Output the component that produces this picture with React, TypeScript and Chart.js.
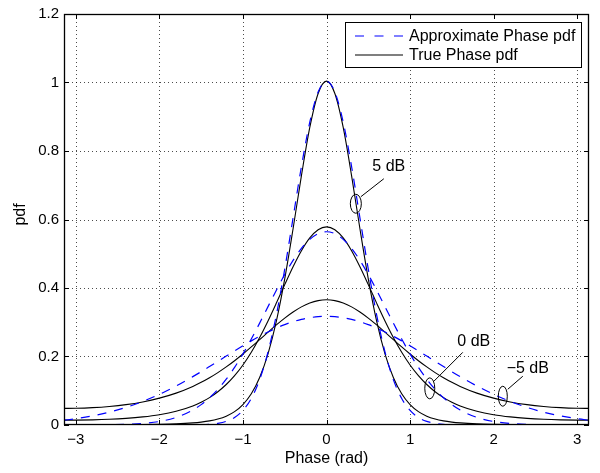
import React, { useEffect, useRef } from 'react';
import { Chart, registerables } from 'chart.js';

Chart.register(...registerables);

// ---- data ----
const phase = [-3.1416, -3.0, -2.8, -2.6, -2.4, -2.2, -2.0, -1.8, -1.6, -1.5, -1.4, -1.3, -1.2, -1.1, -1.0, -0.9, -0.8, -0.7, -0.6, -0.5, -0.4, -0.3, -0.2, -0.1, 0, 0.1, 0.2, 0.3, 0.4, 0.5, 0.6, 0.7, 0.8, 0.9, 1.0, 1.1, 1.2, 1.3, 1.4, 1.5, 1.6, 1.8, 2.0, 2.2, 2.4, 2.6, 2.8, 3.0, 3.1416];

const approx5dB = [0, 0, 0, 0, 0, 0, 0, 0, 0.0003, 0.0008, 0.0020, 0.0048, 0.0106, 0.0219, 0.0425, 0.0775, 0.1326, 0.2131, 0.3214, 0.4551, 0.6049, 0.7548, 0.8841, 0.9721, 1.0033, 0.9721, 0.8841, 0.7548, 0.6049, 0.4551, 0.3214, 0.2131, 0.1326, 0.0775, 0.0425, 0.0219, 0.0106, 0.0048, 0.0020, 0.0008, 0.0003, 0, 0, 0, 0, 0, 0, 0, 0];
const approx0dB = [0, 0.0001, 0.0002, 0.0007, 0.0018, 0.0045, 0.0103, 0.0221, 0.0436, 0.0595, 0.0795, 0.1041, 0.1337, 0.1682, 0.2076, 0.2510, 0.2975, 0.3456, 0.3936, 0.4394, 0.4808, 0.5156, 0.5421, 0.5586, 0.5642, 0.5586, 0.5421, 0.5156, 0.4808, 0.4394, 0.3936, 0.3456, 0.2975, 0.2510, 0.2076, 0.1682, 0.1337, 0.1041, 0.0795, 0.0595, 0.0436, 0.0221, 0.0103, 0.0045, 0.0018, 0.0007, 0.0002, 0.0001, 0];
const approxM5dB = [0.0140, 0.0184, 0.0266, 0.0374, 0.0513, 0.0687, 0.0896, 0.1139, 0.1412, 0.1557, 0.1707, 0.1859, 0.2012, 0.2164, 0.2313, 0.2456, 0.2591, 0.2717, 0.2831, 0.2932, 0.3016, 0.3084, 0.3133, 0.3163, 0.3173, 0.3163, 0.3133, 0.3084, 0.3016, 0.2932, 0.2831, 0.2717, 0.2591, 0.2456, 0.2313, 0.2164, 0.2012, 0.1859, 0.1707, 0.1557, 0.1412, 0.1139, 0.0896, 0.0687, 0.0513, 0.0374, 0.0266, 0.0184, 0.0140];

const true5dB = [0.0008, 0.0008, 0.0008, 0.0010, 0.0012, 0.0015, 0.0022, 0.0035, 0.0062, 0.0085, 0.0120, 0.0174, 0.0258, 0.0390, 0.0595, 0.0910, 0.1386, 0.2077, 0.3031, 0.4266, 0.5729, 0.7280, 0.8687, 0.9680, 1.0040, 0.9680, 0.8687, 0.7280, 0.5729, 0.4266, 0.3031, 0.2077, 0.1386, 0.0910, 0.0595, 0.0390, 0.0258, 0.0174, 0.0120, 0.0085, 0.0062, 0.0035, 0.0022, 0.0015, 0.0012, 0.0010, 0.0008, 0.0008, 0.0008];
const true0dB = [0.0142, 0.0143, 0.0151, 0.0167, 0.0194, 0.0236, 0.0300, 0.0400, 0.0556, 0.0665, 0.0799, 0.0972, 0.1182, 0.1441, 0.1753, 0.2124, 0.2554, 0.3037, 0.3559, 0.4098, 0.4621, 0.5088, 0.5461, 0.5701, 0.5784, 0.5701, 0.5461, 0.5088, 0.4621, 0.4098, 0.3559, 0.3037, 0.2554, 0.2124, 0.1753, 0.1441, 0.1182, 0.0972, 0.0799, 0.0665, 0.0556, 0.0400, 0.0300, 0.0236, 0.0194, 0.0167, 0.0151, 0.0143, 0.0142];
const trueM5dB = [0.0484, 0.0487, 0.0506, 0.0541, 0.0595, 0.0674, 0.0784, 0.0931, 0.1127, 0.1246, 0.1380, 0.1530, 0.1696, 0.1877, 0.2073, 0.2280, 0.2494, 0.2710, 0.2922, 0.3121, 0.3299, 0.3449, 0.3562, 0.3632, 0.3656, 0.3632, 0.3562, 0.3449, 0.3299, 0.3121, 0.2922, 0.2710, 0.2494, 0.2280, 0.2073, 0.1877, 0.1696, 0.1530, 0.1380, 0.1246, 0.1127, 0.0931, 0.0784, 0.0674, 0.0595, 0.0541, 0.0506, 0.0487, 0.0484];

const xTickValues = [-3, -2, -1, 0, 1, 2, 3];
const xTickLabels = ['\u22123', '\u22122', '\u22121', '0', '1', '2', '3'];
const yTickValues = [0, 0.2, 0.4, 0.6, 0.8, 1, 1.2];
const yTickLabels = ['0', '0.2', '0.4', '0.6', '0.8', '1', '1.2'];

const legendLabels = ['Approximate Phase pdf', 'True Phase pdf'];
const xAxisTitle = 'Phase (rad)';
const yAxisTitle = 'pdf';

const annotationLabels = ['5 dB', '0 dB', '\u22125 dB'];
const annotationX = [0.351, 1.236, 2.11];
const annotationY = [0.646, 0.107, 0.084];

// ---- styles ----
const FONT = '"Liberation Sans", Arial, Helvetica, sans-serif';
const BLUE = '#0000ff';
const CURVE_DASH = [9, 8];
const annotationStyle = [
  { rx: 5.5, ry: 9.5, l0: [5, -7], l1: [28, -25], t: [33, -37] },
  { rx: 5, ry: 10.5, l0: [4, -7], l1: [33, -36], t: [44, -47] },
  { rx: 4.5, ry: 10, l0: [5, -7], l1: [20, -20], t: [25, -28] },
];

const matlabPlugin = {
  id: 'matlabLook',
  beforeDraw(chart: any) {
    const ctx = chart.ctx;
    ctx.save();
    ctx.fillStyle = '#ffffff';
    ctx.fillRect(0, 0, chart.width, chart.height);
    ctx.restore();
  },
  beforeDatasetsDraw(chart: any) {
    const { ctx, chartArea, scales } = chart;
    const { left, right, top, bottom } = chartArea;
    ctx.save();
    ctx.strokeStyle = 'rgba(0,0,0,0.7)';
    ctx.lineWidth = 1;
    ctx.setLineDash([1, 3]);
    xTickValues.forEach((v) => {
      const px = Math.round(scales.x.getPixelForValue(v)) + 0.5;
      ctx.beginPath();
      ctx.moveTo(px, top);
      ctx.lineTo(px, bottom);
      ctx.stroke();
    });
    yTickValues.forEach((v) => {
      if (v <= 0 || v >= 1.2) return;
      const py = Math.round(scales.y.getPixelForValue(v)) + 0.5;
      ctx.beginPath();
      ctx.moveTo(left, py);
      ctx.lineTo(right, py);
      ctx.stroke();
    });
    ctx.restore();
  },
  afterDatasetsDraw(chart: any) {
    const { ctx, chartArea, scales } = chart;
    const { left, right, top, bottom } = chartArea;
    ctx.save();
    // box
    ctx.setLineDash([]);
    ctx.strokeStyle = '#000';
    ctx.lineWidth = 1.3;
    ctx.strokeRect(left + 0.5, top + 0.5, right - left - 1, bottom - top - 1);
    // inward ticks
    ctx.lineWidth = 1;
    xTickValues.forEach((v) => {
      const px = Math.round(scales.x.getPixelForValue(v)) + 0.5;
      ctx.beginPath();
      ctx.moveTo(px, bottom);
      ctx.lineTo(px, bottom - 5);
      ctx.moveTo(px, top);
      ctx.lineTo(px, top + 5);
      ctx.stroke();
    });
    yTickValues.forEach((v) => {
      const py = Math.round(scales.y.getPixelForValue(v)) + 0.5;
      ctx.beginPath();
      ctx.moveTo(left, py);
      ctx.lineTo(left + 5, py);
      ctx.moveTo(right, py);
      ctx.lineTo(right - 5, py);
      ctx.stroke();
    });

    // annotations
    ctx.font = `16px ${FONT}`;
    ctx.fillStyle = '#000';
    ctx.textAlign = 'center';
    ctx.textBaseline = 'middle';
    annotationLabels.forEach((lab, i) => {
      const st = annotationStyle[i];
      const cx = scales.x.getPixelForValue(annotationX[i]);
      const cy = scales.y.getPixelForValue(annotationY[i]);
      ctx.lineWidth = 1;
      ctx.strokeStyle = '#000';
      ctx.beginPath();
      ctx.ellipse(cx, cy, st.rx, st.ry, 0, 0, Math.PI * 2);
      ctx.stroke();
      ctx.beginPath();
      ctx.moveTo(cx + st.l0[0], cy + st.l0[1]);
      ctx.lineTo(cx + st.l1[0], cy + st.l1[1]);
      ctx.stroke();
      ctx.fillText(lab, cx + st.t[0], cy + st.t[1]);
    });

    // legend
    const lx0 = right - 244, ly0 = top + 8, lw = 236, lh = 45;
    ctx.fillStyle = '#fff';
    ctx.fillRect(lx0, ly0, lw, lh);
    ctx.strokeStyle = '#000';
    ctx.lineWidth = 1;
    ctx.strokeRect(lx0 + 0.5, ly0 + 0.5, lw, lh);
    const rows = [ly0 + 14, ly0 + 33];
    // row 1 dashed blue
    ctx.strokeStyle = BLUE;
    ctx.lineWidth = 1.2;
    ctx.setLineDash([9, 10.5]);
    ctx.beginPath();
    ctx.moveTo(lx0 + 10, rows[0]);
    ctx.lineTo(lx0 + 58, rows[0]);
    ctx.stroke();
    ctx.setLineDash([]);
    ctx.strokeStyle = '#000';
    ctx.beginPath();
    ctx.moveTo(lx0 + 10, rows[1]);
    ctx.lineTo(lx0 + 58, rows[1]);
    ctx.stroke();
    ctx.fillStyle = '#000';
    ctx.textAlign = 'left';
    ctx.font = `16px ${FONT}`;
    ctx.fillText(legendLabels[0], lx0 + 64, rows[0] + 1);
    ctx.fillText(legendLabels[1], lx0 + 64, rows[1] + 1);

    // axis titles
    ctx.textAlign = 'center';
    ctx.fillText(xAxisTitle, (left + right) / 2, 459);
    ctx.save();
    ctx.translate(21, (top + bottom) / 2 - 5);
    ctx.rotate(-Math.PI / 2);
    ctx.fillText(yAxisTitle, 0, 0);
    ctx.restore();

    ctx.restore();
  },
};

export default function App() {
  const canvasRef = useRef<HTMLCanvasElement | null>(null);

  useEffect(() => {
    if (!canvasRef.current) return;
    const mk = (arr: number[]) => phase.map((p, i) => ({ x: p, y: arr[i] }));
    const dashed = (label: string, arr: number[]) => ({
      label,
      data: mk(arr),
      borderColor: BLUE,
      borderWidth: 1.2,
      borderDash: CURVE_DASH,
      pointRadius: 0,
      fill: false,
      cubicInterpolationMode: 'monotone' as const,
    });
    const solid = (label: string, arr: number[]) => ({
      label,
      data: mk(arr),
      borderColor: '#000000',
      borderWidth: 1.1,
      pointRadius: 0,
      fill: false,
      cubicInterpolationMode: 'monotone' as const,
    });
    const tickFont = { family: FONT, size: 15 };
    const chart = new Chart(canvasRef.current, {
      type: 'line',
      data: {
        datasets: [
          dashed(legendLabels[0], approx5dB),
          dashed(legendLabels[0], approx0dB),
          dashed(legendLabels[0], approxM5dB),
          solid(legendLabels[1], true5dB),
          solid(legendLabels[1], true0dB),
          solid(legendLabels[1], trueM5dB),
        ],
      },
      options: {
        responsive: false,
        animation: false,
        devicePixelRatio: 1,
        events: [],
        layout: { padding: { left: 0, top: 11, right: 11, bottom: 0 } },
        plugins: {
          legend: { display: false },
          tooltip: { enabled: false },
        },
        scales: {
          x: {
            type: 'linear',
            min: -Math.PI,
            max: Math.PI,
            grid: { display: false, drawTicks: false },
            border: { display: false },
            ticks: {
              font: tickFont,
              color: '#000',
              padding: 6,
              maxRotation: 0,
              autoSkip: false,
              callback: (v: any) => xTickLabels[xTickValues.indexOf(Number(v))] ?? '',
            },
            afterBuildTicks: (s: any) => {
              s.ticks = xTickValues.map((v) => ({ value: v }));
            },
            afterFit: (s: any) => {
              s.height = 48;
            },
          },
          y: {
            type: 'linear',
            min: 0,
            max: 1.2,
            grid: { display: false, drawTicks: false },
            border: { display: false },
            ticks: {
              font: tickFont,
              color: '#000',
              padding: 5,
              autoSkip: false,
              callback: (v: any) => yTickLabels[yTickValues.indexOf(Number(v))] ?? '',
            },
            afterBuildTicks: (s: any) => {
              s.ticks = yTickValues.map((v) => ({ value: v }));
            },
            afterFit: (s: any) => {
              s.width = 64;
            },
          },
        },
      },
      plugins: [matlabPlugin],
    });
    return () => chart.destroy();
  }, []);

  return (
    <div style={{ position: 'absolute', left: 0, top: 0, width: 600, height: 473, background: '#fff' }}>
      <canvas ref={canvasRef} width={600} height={473} style={{ display: 'block' }} />
    </div>
  );
}
